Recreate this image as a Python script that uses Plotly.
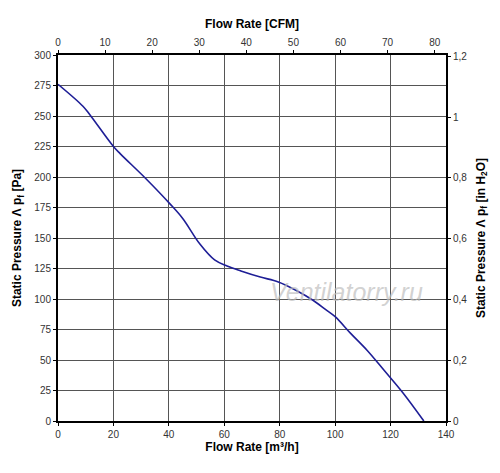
import plotly.graph_objects as go

# Fan curve
flow_m3h = [0, 9, 11.5, 20, 22.5, 32, 40.4, 45, 51.2, 56.5, 61, 66, 73, 79.5,
            86, 92, 96.5, 100, 105.5, 111.5, 117.5, 124.5, 132]
pressure_pa = [276, 258, 251, 225, 219, 198, 178, 166, 145, 132, 127, 123, 118, 114,
               107, 99, 91.5, 85.5, 72, 58, 42, 23, 0]

x_ticks = [0, 20, 40, 60, 80, 100, 120, 140]
y_ticks = [0, 25, 50, 75, 100, 125, 150, 175, 200, 225, 250, 275, 300]
cfm_ticks = [0, 10, 20, 30, 40, 50, 60, 70, 80]
inh2o_ticks = [0, 0.2, 0.4, 0.6, 0.8, 1.0, 1.2]
inh2o_labels = ['0', '0,2', '0,4', '0,6', '0,8', '1', '1,2']

M3H_PER_CFM = 1.699
PA_PER_INH2O = 249.089

flow_cfm = [v / M3H_PER_CFM for v in flow_m3h]
pressure_inh2o = [v / PA_PER_INH2O for v in pressure_pa]

font = 'Liberation Sans, Arial, sans-serif'
tick_font = dict(family=font, size=10, color='#333333')
title_font = dict(family=font, size=12, color='black')

fig = go.Figure()
fig.add_trace(go.Scatter(
    x=flow_m3h, y=pressure_pa, mode='lines',
    line=dict(color='rgb(30,30,150)', width=1.6, shape='spline', smoothing=1.0),
    showlegend=False, hoverinfo='skip'))
# same curve in imperial units, only to carry the top/right axes
fig.add_trace(go.Scatter(
    x=flow_cfm, y=pressure_inh2o, mode='lines', xaxis='x2', yaxis='y2',
    line=dict(color='rgba(0,0,0,0)', width=0),
    showlegend=False, hoverinfo='skip'))

fig.add_annotation(x=104, y=106, text='<i>Ventilatorry.ru</i>', showarrow=False,
                   font=dict(family=font, size=25, color='rgba(190,190,190,0.7)'))

# page body adds an 8px offset, so the figure is a bit smaller than the window
fig.update_layout(
    width=492, height=465,
    margin=dict(l=50, r=54, t=47, b=52),
    paper_bgcolor='white', plot_bgcolor='white',
    xaxis=dict(
        range=[0, 140], tickvals=x_ticks, ticks='outside', ticklen=3,
        tickcolor='black', tickfont=tick_font, automargin=False,
        showgrid=True, gridcolor='#555555', gridwidth=1,
        showline=True, linecolor='black', linewidth=2, zeroline=False,
        title=dict(text='<b>Flow Rate [m³/h]</b>', font=title_font, standoff=4)),
    yaxis=dict(
        range=[0, 300], tickvals=y_ticks, ticks='outside', ticklen=3,
        tickcolor='black', tickfont=tick_font, automargin=False,
        showgrid=True, gridcolor='#555555', gridwidth=1,
        showline=True, linecolor='black', linewidth=2, zeroline=False,
        title=dict(text='<b>Static Pressure Λ p<sub>f</sub> [Pa]</b>',
                   font=title_font, standoff=10)),
    xaxis2=dict(
        overlaying='x', side='top', range=[0, 140 / M3H_PER_CFM],
        tickvals=cfm_ticks, ticks='outside', ticklen=3, tickcolor='black',
        tickfont=tick_font, showgrid=False, zeroline=False, automargin=False,
        showline=True, linecolor='black', linewidth=1.5,
        title=dict(text='<b>Flow Rate [CFM]</b>', font=title_font, standoff=6)),
    yaxis2=dict(
        overlaying='y', side='right', range=[0, 300 / PA_PER_INH2O],
        tickvals=inh2o_ticks, ticktext=inh2o_labels, ticks='outside', ticklen=3,
        tickcolor='black', tickfont=tick_font, showgrid=False, zeroline=False,
        automargin=False,
        showline=True, linecolor='black', linewidth=2,
        title=dict(text='<b>Static Pressure Λ p<sub>f</sub> [in H<sub>2</sub>O]</b>',
                   font=title_font, standoff=10)),
)

fig.write_html('out.html')
